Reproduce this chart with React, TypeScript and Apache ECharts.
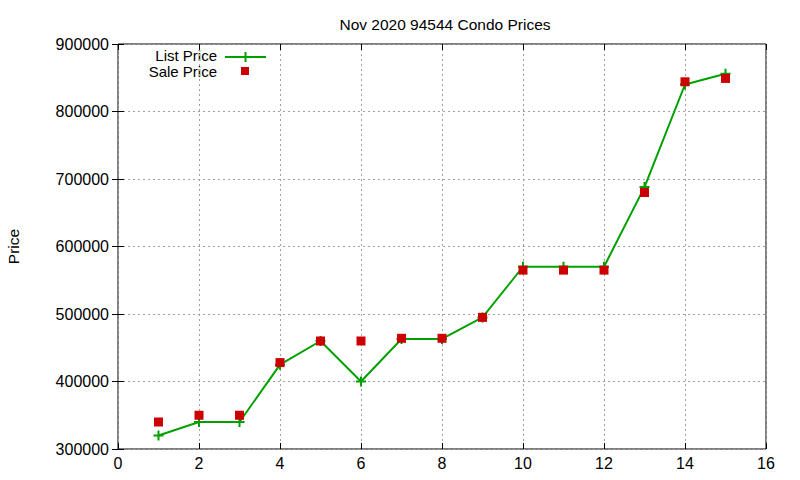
import React, { useEffect, useRef } from "react";
import * as echarts from "echarts";

const xValues = [1, 2, 3, 4, 5, 6, 7, 8, 9, 10, 11, 12, 13, 14, 15];
const listPrice = [320000, 340000, 340000, 425000, 460000, 400000, 463000, 463000, 495000, 570000, 570000, 570000, 688000, 840000, 856000];
const salePrice = [340000, 350000, 350000, 428000, 460000, 460000, 464000, 464000, 495000, 565000, 565000, 565000, 680000, 844000, 849000];
const xTicks = [0, 16, 2];
const yTicks = [300000, 900000, 100000];

const FONT = "Liberation Sans, Arial, sans-serif";
const GREEN = "#00a000";
const RED = "#cc0000";
const PLUS = "path://M4 0H6V10H4Z M0 4H10V6H0Z";

export default function App() {
  const ref = useRef<HTMLDivElement>(null);
  useEffect(() => {
    const chart = echarts.init(ref.current!, null, { renderer: "svg" });
    const grid = { left: 118, right: 34, top: 44, bottom: 31 };
    const gridLine = { show: true, lineStyle: { color: "#a0a0a0", type: [2, 3] as any, width: 1 } };
    chart.setOption({
      animation: false,
      backgroundColor: "#ffffff",
      title: {
        text: "Nov 2020 94544 Condo Prices",
        left: 440,
        textAlign: "center",
        top: 11,
        textStyle: { fontFamily: FONT, fontSize: 15.5, fontWeight: "normal", color: "#000" },
      },
      grid: {
        ...grid,
        outerBoundsMode: "none",
        containLabel: false,
        show: true,
        borderColor: "#000",
        borderWidth: 1,
        backgroundColor: "transparent",
      },
      xAxis: [
        {
          type: "value",
          min: xTicks[0],
          max: xTicks[1],
          interval: xTicks[2],
          axisLine: { show: false },
          axisTick: { show: true, inside: true, length: 6, lineStyle: { color: "#000" } },
          axisLabel: { fontFamily: FONT, fontSize: 16, color: "#000", margin: 6 },
          splitLine: gridLine,
        },
        {
          type: "value",
          position: "top",
          min: xTicks[0],
          max: xTicks[1],
          interval: xTicks[2],
          axisLine: { show: false },
          axisTick: { show: true, inside: true, length: 6, lineStyle: { color: "#000" } },
          axisLabel: { show: false },
          splitLine: { show: false },
        },
      ],
      yAxis: [
        {
          type: "value",
          min: yTicks[0],
          max: yTicks[1],
          interval: yTicks[2],
          name: "Price",
          nameLocation: "middle",
          nameGap: 97,
          nameRotate: 90,
          nameTextStyle: { fontFamily: FONT, fontSize: 15.5, color: "#000" },
          axisLine: { show: false },
          axisTick: { show: true, inside: true, length: 6, lineStyle: { color: "#000" } },
          axisLabel: { fontFamily: FONT, fontSize: 16, color: "#000", margin: 9, formatter: (v: number) => String(v) },
          splitLine: gridLine,
        },
        {
          type: "value",
          position: "right",
          min: yTicks[0],
          max: yTicks[1],
          interval: yTicks[2],
          axisLine: { show: false },
          axisTick: { show: true, inside: true, length: 6, lineStyle: { color: "#000" } },
          axisLabel: { show: false },
          splitLine: { show: false },
        },
      ],
      series: [
        {
          name: "List Price",
          type: "line",
          data: xValues.map((x, i) => [x, listPrice[i]]),
          symbol: PLUS,
          symbolSize: 10,
          showAllSymbol: true,
          lineStyle: { color: GREEN, width: 2 },
          itemStyle: { color: GREEN, opacity: 1 },
          z: 2,
        },
        {
          name: "Sale Price",
          type: "scatter",
          data: xValues.map((x, i) => [x, salePrice[i]]),
          symbol: "rect",
          symbolSize: 9,
          itemStyle: { color: RED, opacity: 1 },
          z: 3,
        },
      ],
      graphic: [
        { type: "text", x: 217, y: 55.5, style: { text: "List Price", fontFamily: FONT, fontSize: 15, fill: "#000", align: "right", verticalAlign: "middle" } },
        { type: "line", shape: { x1: 225, y1: 57, x2: 266, y2: 57 }, style: { stroke: GREEN, lineWidth: 2 } },
        { type: "line", shape: { x1: 245.5, y1: 52, x2: 245.5, y2: 62 }, style: { stroke: GREEN, lineWidth: 2 } },
        { type: "text", x: 217, y: 71, style: { text: "Sale Price", fontFamily: FONT, fontSize: 15, fill: "#000", align: "right", verticalAlign: "middle" } },
        { type: "rect", shape: { x: 241, y: 67, width: 8, height: 8 }, style: { fill: RED } },
      ],
    });
    return () => chart.dispose();
  }, []);
  return <div ref={ref} style={{ width: 800, height: 480, position: "absolute", left: 0, top: 0 }} />;
}
